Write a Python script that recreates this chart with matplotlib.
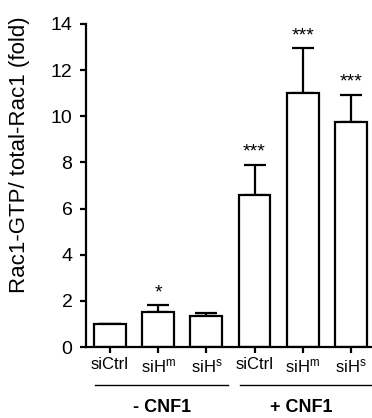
import matplotlib
matplotlib.use("Agg")
import matplotlib.pyplot as plt
import matplotlib.transforms as mtransforms

plt.rcParams['font.family'] = ['Liberation Sans', 'DejaVu Sans']
plt.rcParams['mathtext.fontset'] = 'custom'
plt.rcParams['mathtext.rm'] = 'Liberation Sans'
plt.rcParams['mathtext.it'] = 'Liberation Sans:italic'

# Rac1 activation, fold over siCtrl without toxin
labels = ['siCtrl', r'siH$^{\mathrm{m}}$', r'siH$^{\mathrm{s}}$',
          'siCtrl', r'siH$^{\mathrm{m}}$', r'siH$^{\mathrm{s}}$']
values = [1.0, 1.5, 1.36, 6.6, 11.0, 9.75]
errors = [0.0, 0.3, 0.1, 1.3, 1.95, 1.17]
stars = ['', '*', '', '***', '***', '***']
groups = ['- CNF1', '+ CNF1']
yticks = [0, 2, 4, 6, 8, 10, 12, 14]

fig = plt.figure(figsize=(3.72, 4.18), dpi=100)
ax = fig.add_axes([86 / 372, 1 - 347 / 418, 1 - 86 / 372, (347 - 24) / 418])

x = list(range(len(values)))
ax.bar(x, values, width=0.66, color='white', edgecolor='black', linewidth=1.6, zorder=2)
ax.errorbar(x, values, yerr=[[0] * len(errors), errors], fmt='none',
            ecolor='black', elinewidth=1.6, capsize=8, capthick=1.6, zorder=1)

for xi, v, e, s in zip(x, values, errors, stars):
    if s:
        ax.annotate(s, (xi, v + e), xytext=(0, 3), textcoords='offset points',
                    ha='center', va='bottom', fontsize=14)

ax.set_xlim(-0.5, 5.44)
ax.set_ylim(0, 14)
ax.set_yticks(yticks)
ax.set_xticks(x)
ax.set_xticklabels(labels)
for side in ['top', 'right']:
    ax.spines[side].set_visible(False)
for side in ['left', 'bottom']:
    ax.spines[side].set_linewidth(1.6)
ax.tick_params(axis='y', length=4.3, width=1.6, pad=5.5, labelsize=14)
ax.tick_params(axis='x', length=4, width=1.6, pad=3.5, labelsize=12)

fig.text(20 / 372, 1 - 155 / 418, 'Rac1-GTP/ total-Rac1 (fold)', rotation=90,
         ha='center', va='center', fontsize=16)

# group brackets below the tick labels
trans = mtransforms.blended_transform_factory(ax.transData, fig.transFigure)
yline = 1 - 385 / 418
ytext = 1 - 408 / 418
for (x0, x1), name, xc in zip([(-0.31, 2.45), (2.70, 5.5)], groups, [1.08, 3.97]):
    ax.plot([x0, x1], [yline, yline], color='black', linewidth=1.0,
            transform=trans, clip_on=False)
    fig.text(xc, ytext, name, transform=trans, ha='center', va='center',
             fontsize=13, fontweight='bold')

fig.savefig('out.png', dpi=100)
